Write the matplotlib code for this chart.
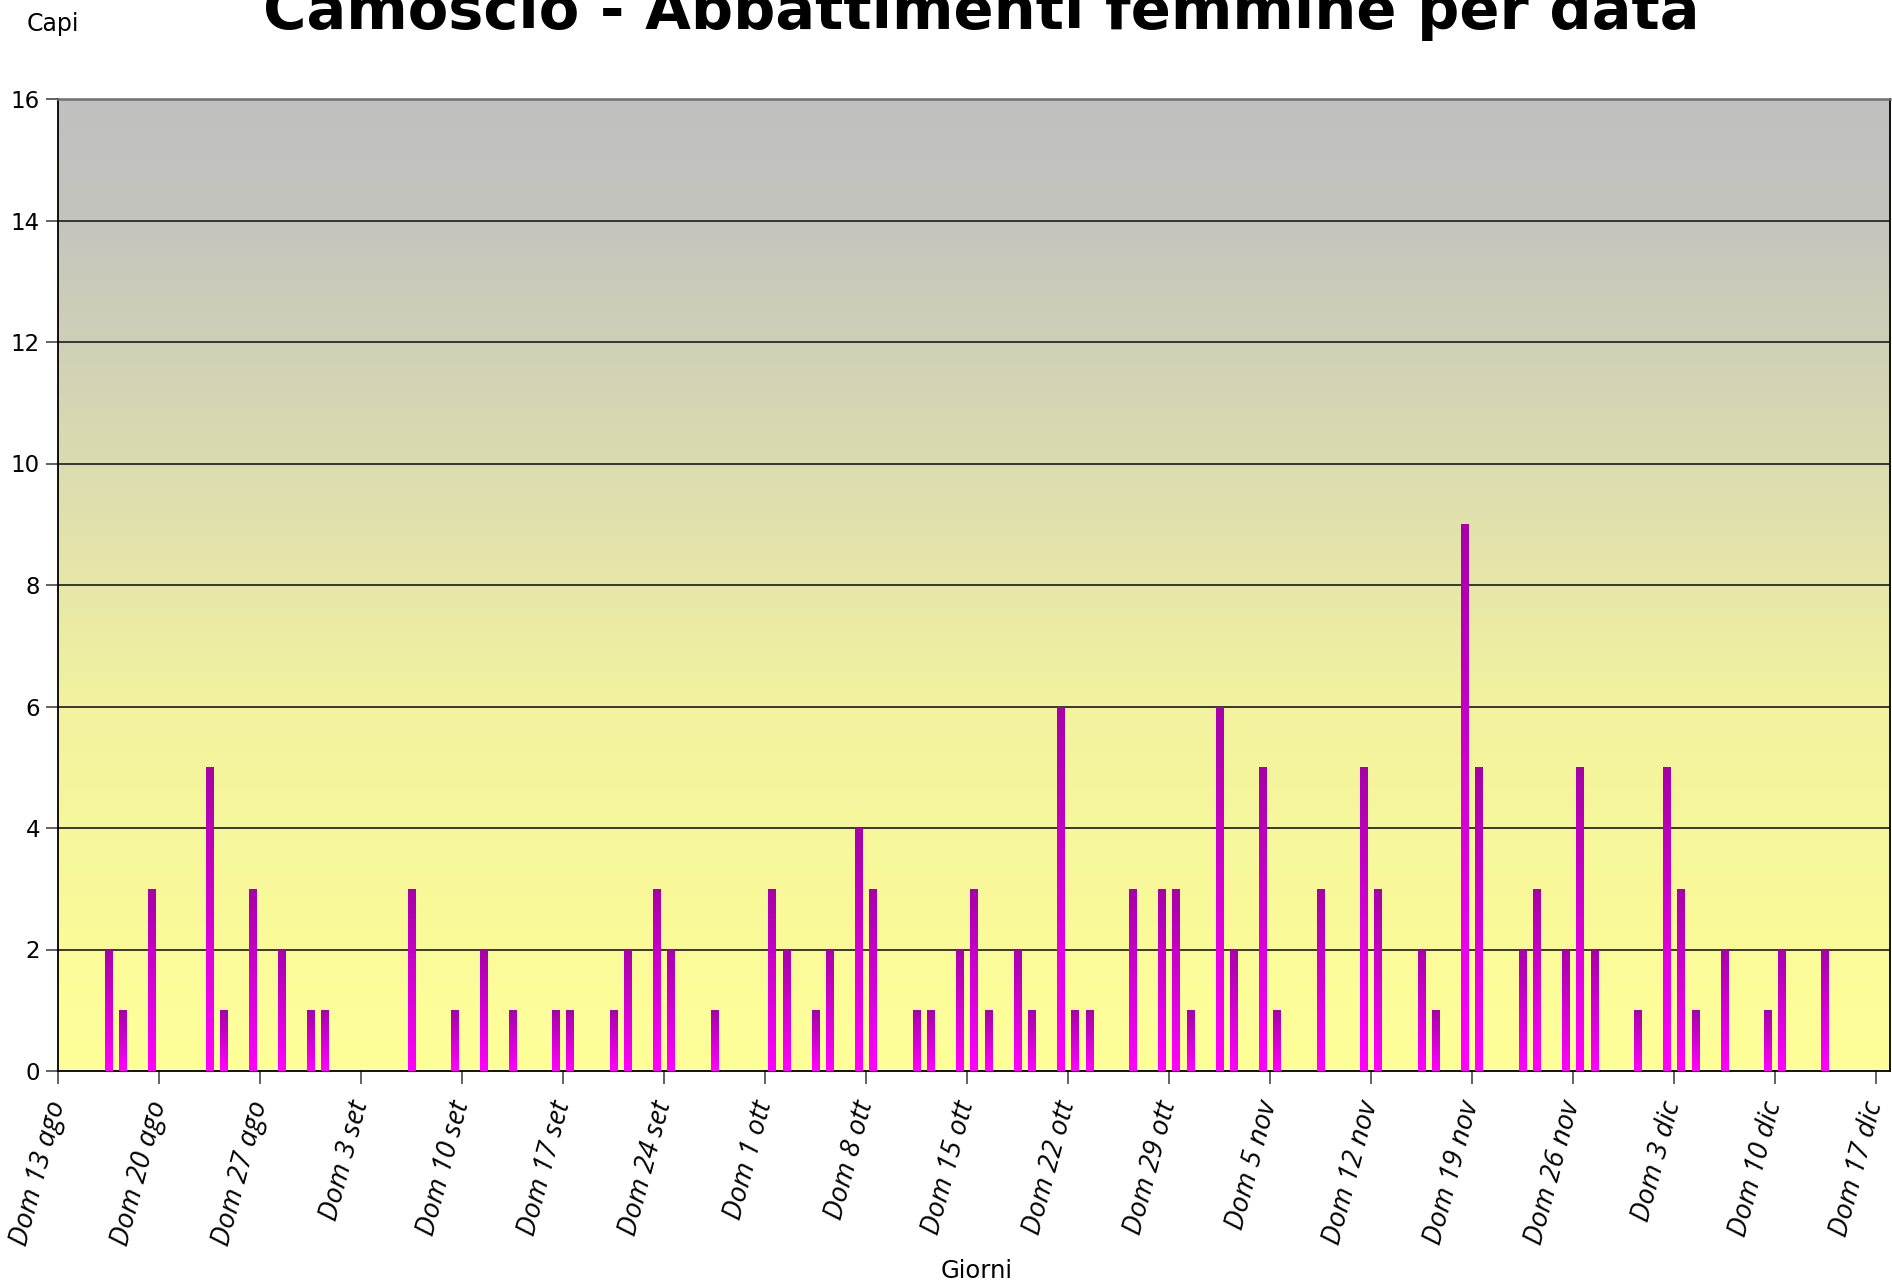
import numpy as np
import matplotlib
matplotlib.use("Agg")
import matplotlib.pyplot as plt
from matplotlib.colors import LinearSegmentedColormap

# giorni di abbattimento (2006) e capi abbattuti
dates = ["2006-08-16", "2006-08-17", "2006-08-19", "2006-08-23", "2006-08-24",
         "2006-08-26", "2006-08-28", "2006-08-30", "2006-08-31", "2006-09-06",
         "2006-09-09", "2006-09-11", "2006-09-13", "2006-09-16", "2006-09-17",
         "2006-09-20", "2006-09-21", "2006-09-23", "2006-09-24", "2006-09-27",
         "2006-10-01", "2006-10-02", "2006-10-04", "2006-10-05", "2006-10-07",
         "2006-10-08", "2006-10-11", "2006-10-12", "2006-10-14", "2006-10-15",
         "2006-10-16", "2006-10-18", "2006-10-19", "2006-10-21", "2006-10-22",
         "2006-10-23", "2006-10-26", "2006-10-28", "2006-10-29", "2006-10-30",
         "2006-11-01", "2006-11-02", "2006-11-04", "2006-11-05", "2006-11-08",
         "2006-11-11", "2006-11-12", "2006-11-15", "2006-11-16", "2006-11-18",
         "2006-11-19", "2006-11-22", "2006-11-23", "2006-11-25", "2006-11-26",
         "2006-11-27", "2006-11-30", "2006-12-02", "2006-12-03", "2006-12-04",
         "2006-12-06", "2006-12-09", "2006-12-10", "2006-12-13"]
capi = [2, 1, 3, 5, 1, 3, 2, 1, 1, 3,
        1, 2, 1, 1, 1, 1, 2, 3, 2, 1,
        3, 2, 1, 2, 4, 3, 1, 1, 2, 3,
        1, 2, 1, 6, 1, 1, 3, 3, 3, 1,
        6, 2, 5, 1, 3, 5, 3, 2, 1, 9,
        5, 2, 3, 2, 5, 2, 1, 5, 3, 1,
        2, 1, 2, 2]

start = "2006-08-13"
end = "2006-12-18"
tick_labels = ["Dom 13 ago", "Dom 20 ago", "Dom 27 ago", "Dom 3 set", "Dom 10 set",
               "Dom 17 set", "Dom 24 set", "Dom 1 ott", "Dom 8 ott", "Dom 15 ott",
               "Dom 22 ott", "Dom 29 ott", "Dom 5 nov", "Dom 12 nov", "Dom 19 nov",
               "Dom 26 nov", "Dom 3 dic", "Dom 10 dic", "Dom 17 dic"]

d0 = np.datetime64(start)
days = (np.array(dates, dtype="datetime64[D]") - d0).astype(int)
ndays = int((np.datetime64(end) - d0).astype(int))

W, H = 1892, 1288
fig = plt.figure(figsize=(W / 100, H / 100), dpi=100)
fig.patch.set_facecolor("white")
ax = fig.add_axes([58 / W, (H - 1071) / H, (1890 - 58) / W, (1071 - 99) / H])

# sfondo sfumato grigio -> giallo
bg = LinearSegmentedColormap.from_list(
    "bg", [(0, "#FFFF99"), (0.12, "#FBFB99"), (0.38, "#F2F2A0"),
           (0.62, "#DCDCB0"), (0.88, "#C4C4BE"), (1, "#C0C0C0")])
ax.imshow(np.linspace(0, 1, 256).reshape(-1, 1), extent=[0, ndays, 0, 16],
          origin="lower", aspect="auto", cmap=bg, zorder=0)

for y in range(2, 16, 2):
    ax.axhline(y, color="#2a2a2a", lw=1.3, zorder=1)

bars = ax.bar(days + 0.5, capi, width=0.5, color="none", edgecolor="none", zorder=2)
barcm = LinearSegmentedColormap.from_list("bar", ["#FF00FF", "#A600A8"])
grad = np.linspace(0, 1, 256).reshape(-1, 1)
for b in bars:
    x0, h = b.get_x(), b.get_height()
    im = ax.imshow(grad, extent=[x0, x0 + b.get_width(), 0, h], origin="lower",
                   aspect="auto", cmap=barcm, zorder=3)
    im.set_clip_path(b)

ax.set_xlim(0, ndays)
ax.set_ylim(0, 16)
ax.set_yticks(range(0, 17, 2))
ax.set_xticks(np.arange(0, ndays, 7))
ax.set_xticklabels(tick_labels, rotation=75, ha="right", va="center",
                   rotation_mode="anchor", fontsize=20, family="Open Sans",
                   style="italic")
ax.tick_params(axis="x", length=9, width=1.3, color="#555555", pad=13)
ax.tick_params(axis="y", length=9, width=1.3, color="#555555", labelsize=16.5, pad=4)

for s in ["left", "bottom", "right"]:
    ax.spines[s].set_color("black")
    ax.spines[s].set_linewidth(1.3)
ax.spines["top"].set_color("#707070")
ax.spines["top"].set_linewidth(1.8)

fig.text(981 / W, 1 - 29 / H, "Camoscio - Abbattimenti femmine per data",
         ha="center", va="baseline", fontsize=42.6, fontweight="bold")
fig.text(53 / W, 1 - 24 / H, "Capi", ha="center", va="center", fontsize=17)
fig.text(977 / W, 1 - 1271 / H, "Giorni", ha="center", va="center", fontsize=17.5)

fig.savefig("out.png", dpi=100)
